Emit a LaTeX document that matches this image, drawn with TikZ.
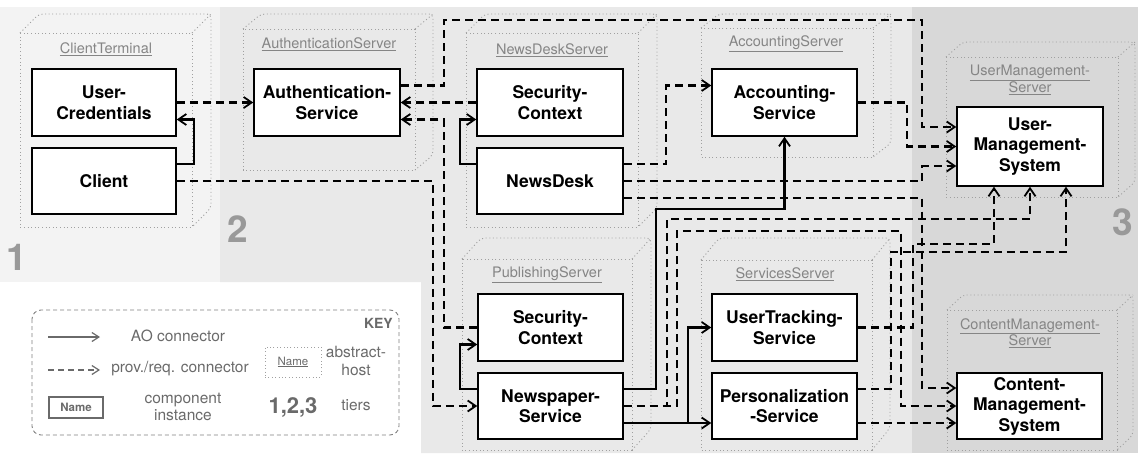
\documentclass[tikz,border=0pt]{standalone}
\usepackage{fontspec}
\setmainfont{TeX Gyre Heros}
\usetikzlibrary{arrows.meta,calc}

\definecolor{tierA}{HTML}{F3F3F3}
\definecolor{tierB}{HTML}{E9E9E9}
\definecolor{tierC}{HTML}{D8D8D8}
\definecolor{hostgray}{HTML}{A0A0A0}
\definecolor{labelgray}{HTML}{858585}
\definecolor{keygray}{HTML}{6A6A6A}
\definecolor{tiergray}{HTML}{999999}

% abstract host: front face (x1,y1)-(x2,y2), depth offset (dx,dy)
\newcommand{\hostshape}[6]{%
  \draw[hostline] (#1,#2) rectangle (#3,#4);
  \draw[hostline,rounded corners=4pt] (#1,#2) -- (#1+#5,#2-#6) -- (#3+#5,#2-#6) -- (#3+#5,#4-#6) -- (#3,#4);
  \draw[hostline] (#3,#2) -- (#3+#5,#2-#6);
}

\tikzset{
  tip/.style={-{Straight Barb[length=8pt,width=11pt,line width=1.8pt]}},
  pr/.style={tip, line width=2.1pt, dash pattern=on 8pt off 5pt},
  ao/.style={tip, line width=2.1pt},
  comp/.style={draw=black, line width=1.5pt, fill=white, align=center,
    font=\fontsize{17.5}{20.5}\selectfont\bfseries, inner sep=0pt,
    minimum width=145pt, minimum height=67pt},
  hostline/.style={draw=hostgray, line width=0.9pt, dash pattern=on 1pt off 2.6pt},
  hostlabel/.style={text=labelgray, font=\fontsize{14.5}{16.5}\selectfont, align=center, inner sep=0pt},
  tiernum/.style={text=tiergray, font=\fontsize{37}{37}\selectfont\bfseries, inner sep=0pt},
  keytext/.style={text=keygray, font=\fontsize{15.5}{17.5}\selectfont, align=center, inner sep=0pt},
}

\begin{document}
\begin{tikzpicture}[x=1pt, y=-1pt]
\useasboundingbox (0,0) rectangle (1138,453);

% tiers
\fill[tierA] (0,7) rectangle (220,282);
\fill[tierB] (220,7) -- (912,7) -- (912,453) -- (421,453) -- (421,282) -- (220,282) -- cycle;
\fill[tierC] (912,7) rectangle (1138,453);
\node[tiernum] (tier1) at (17,257) {1};
\node[tiernum] (tier2) at (238,229) {2};
\node[tiernum] (tier3) at (1123,222) {3};

% abstract hosts
\hostshape{20}{33}{192}{227}{19}{19}
\hostshape{243}{29}{415}{170}{18}{15}
\hostshape{466}{33}{638}{227}{19}{19}
\hostshape{701}{28}{873}{157}{18}{14}
\hostshape{946}{57}{1118}{197}{17}{15}
\hostshape{462}{259}{632}{450}{19}{21}
\hostshape{701}{260}{872}{450}{18}{22}
\hostshape{947}{310}{1117}{450}{16}{15}

\node[hostlabel] (hClient) at (106,49) {\underline{ClientTerminal}};
\node[hostlabel] (hAuth) at (329,44) {\underline{AuthenticationServer}};
\node[hostlabel] (hNews) at (552,50) {\underline{NewsDeskServer}};
\node[hostlabel] (hAcct) at (786,44) {\underline{AccountingServer}};
\node[hostlabel] (hUser) at (1030,80) {\underline{UserManagement-}\\\underline{Server}};
\node[hostlabel] (hPub) at (547,275) {\underline{PublishingServer}};
\node[hostlabel] (hServ) at (785,274) {\underline{ServicesServer}};
\node[hostlabel] (hCont) at (1030,333) {\underline{ContentManagement-}\\\underline{Server}};

% component instances
\node[comp, minimum width=144pt] (uc) at (104,102.5) {User-\\Credentials};
\node[comp, minimum width=144pt, minimum height=66pt] (client) at (104,181) {Client};
\node[comp, minimum width=146pt] (auth) at (327,102.5) {Authentication-\\Service};
\node[comp, minimum width=146pt] (ndsec) at (550,102.5) {Security-\\Context};
\node[comp, minimum width=146pt, minimum height=66pt] (newsdesk) at (550,181) {NewsDesk};
\node[comp] (acct) at (784.5,102.5) {Accounting-\\Service};
\node[comp, minimum width=146pt, minimum height=79pt] (ums) at (1030,146.5) {User-\\Management-\\System};
\node[comp] (pubsec) at (550.5,327.5) {Security-\\Context};
\node[comp, minimum height=66pt] (newspaper) at (550.5,406) {Newspaper-\\Service};
\node[comp] (tracking) at (784.5,327.5) {UserTracking-\\Service};
\node[comp, minimum height=66pt] (personal) at (784.5,406) {Personalization\\-Service};
\node[comp, minimum height=66pt] (cms) at (1029.5,406) {Content-\\Management-\\System};

% provided / required connectors
\draw[pr] (uc.east) -- (auth.west);
\draw[pr] (ndsec.west) -- (auth.east);
\draw[pr] (pubsec.west) -- (pubsec.west -| 444,0) |- ($(auth.east)+(0,17)$);
\draw[pr] (client.east) -- (client.east -| 433,0) |- (newspaper.west);
\draw[pr] ($(auth.east)+(0,-17)$) -| (444,20) -| ($(ums.west)+(-34,-19.5)$) -- ($(ums.west)+(0,-19.5)$);
\draw[pr] (acct.east) -| ($(ums.west)+(-49,0)$) -- (ums.west);
\draw[pr] ($(newsdesk.east)+(0,-17)$) -| ($(acct.west)+(-45,-17)$) -- ($(acct.west)+(0,-17)$);
\draw[pr] (newsdesk.east) -| ($(ums.west)+(-34,19.5)$) -- ($(ums.west)+(0,19.5)$);
\draw[pr] ($(newsdesk.east)+(0,17)$) -| ($(cms.west)+(-34,-18)$) -- ($(cms.west)+(0,-18)$);
\draw[pr] (newspaper.east) -| (667,219) -| (ums.south);
\draw[pr] (newspaper.east) -| (677,231) -| ($(cms.west)+(-55,0)$) -- (cms.west);
\draw[pr] (tracking.east) -| (913,244) -| ($(ums.south)+(-36,0)$);
\draw[pr] ($(personal.east)+(0,-17)$) -| (891,252) -| ($(ums.south)+(36,0)$);
\draw[pr] ($(personal.east)+(0,17)$) -- ($(cms.west)+(0,17)$);

% AO connectors
\draw[ao] ($(client.east)+(0,-17)$) -| ($(uc.east)+(17,17)$) -- ($(uc.east)+(0,17)$);
\draw[ao] ($(newsdesk.west)+(0,-17)$) -| ($(ndsec.west)+(-16,17)$) -- ($(ndsec.west)+(0,17)$);
\draw[ao] ($(newspaper.west)+(0,-17)$) -| ($(pubsec.west)+(-17,17)$) -- ($(pubsec.west)+(0,17)$);
\draw[ao] ($(newspaper.east)+(0,-17)$) -| (656,209) -| (acct.south);
\draw[ao] ($(newspaper.east)+(0,17)$) -- ($(personal.west)+(0,17)$);
\draw[ao] ($(newspaper.east)+(0,17)$) -| ($(tracking.west)+(-23,0)$) -- (tracking.west);

% key
\draw[draw=keygray!85, line width=0.9pt, dash pattern=on 4pt off 3pt, rounded corners=9pt] (32,310) rectangle (399,435);
\node[keytext, anchor=east, font=\fontsize{14}{16}\selectfont\bfseries] (keytitle) at (393,323) {KEY};
\coordinate (kaoA) at (48,337);
\coordinate (kaoB) at (100,337);
\coordinate (kprA) at (48,370);
\coordinate (kprB) at (100,370);
\draw[draw=keygray, line width=1.3pt, -{Straight Barb[length=7pt,width=9pt,line width=1.2pt]}] (kaoA) -- (kaoB);
\draw[draw=keygray, line width=1.3pt, dash pattern=on 6pt off 4pt, -{Straight Barb[length=7pt,width=9pt,line width=1.2pt]}] (kprA) -- (kprB);
\node[keytext] (kao) at (178,336) {AO connector};
\node[keytext] (kpr) at (180,369) {prov./req. connector};
\node[draw=hostgray, line width=0.9pt, dash pattern=on 1pt off 2.4pt, minimum width=56pt, minimum height=30pt, inner sep=0pt,
      text=keygray, font=\fontsize{11.5}{13}\selectfont] (khost) at (293,362) {\underline{Name}};
\node[keytext] (khosttxt) at (356,361) {abstract-\\host};
\node[draw=keygray, line width=1.1pt, minimum width=54pt, minimum height=21pt, inner sep=0pt,
      text=keygray, font=\fontsize{11.5}{13}\selectfont\bfseries] (kcomp) at (76,407.5) {Name};
\node[keytext] (kcomptxt) at (183,407) {component\\instance};
\node[keytext, font=\fontsize{22}{24}\selectfont\bfseries] (ktiers) at (293,407) {1,2,3};
\node[keytext] (ktierstxt) at (356,405) {tiers};
\end{tikzpicture}
\end{document}
